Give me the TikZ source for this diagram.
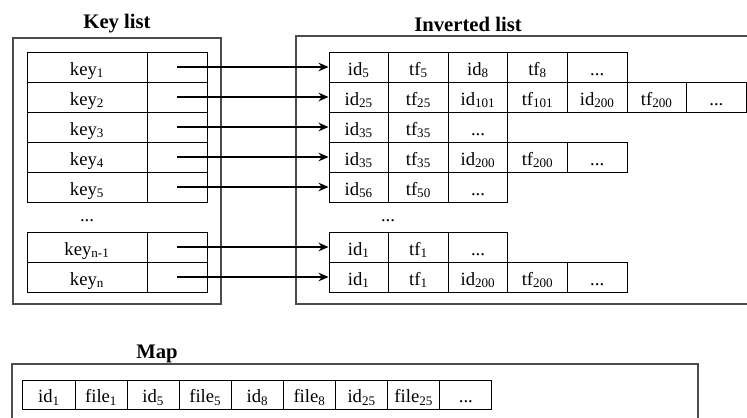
\documentclass[tikz,border=0pt]{standalone}
\usepackage{fontspec}
\setmainfont{Liberation Serif}
\usetikzlibrary{arrows.meta}

\tikzset{every picture/.style={line width=0.75pt}}
\tikzset{
  cell/.style={draw, rectangle, inner sep=0pt, minimum height=22.5pt, text height=13pt, text depth=1pt, font=\fontsize{14}{16}\selectfont},
  keycell/.style={cell, minimum width=90pt},
  ptrcell/.style={cell, minimum width=45pt},
  invcell/.style={cell, minimum width=44.7pt},
  mapcell/.style={cell, minimum width=39.1pt, minimum height=21.75pt},
  frame/.style={draw=black!70, line width=1pt},
  title/.style={font=\fontsize{15.5}{18}\selectfont\bfseries},
  dots/.style={font=\fontsize{14}{16}\selectfont},
  link/.style={-{Stealth[length=7.5pt,width=6.5pt]}, line width=1pt}
}

\begin{document}
\begin{tikzpicture}[x=0.75pt,y=0.75pt,yscale=-1,xscale=1]
\clip (0,0) rectangle (747,418);
\useasboundingbox (0,0) rectangle (747,418);

% Frames
\draw [frame] (13,38) rectangle (221,304);
\draw [frame] (296,36) rectangle (770,304);
\draw [frame] (12,364) rectangle (698,440);

% Titles
\node [title] (tkey) at (117,24) {Key list};
\node [title] (tinv) at (468,24) {Inverted list};
\node [title] (tmap) at (157,354) {Map};

% Key list
\node [keycell] (k1) at (87,67) {key\textsubscript{1}};
\node [ptrcell] (p1) at (177,67) {};
\node [keycell] (k2) at (87,97) {key\textsubscript{2}};
\node [ptrcell] (p2) at (177,97) {};
\node [keycell] (k3) at (87,127) {key\textsubscript{3}};
\node [ptrcell] (p3) at (177,127) {};
\node [keycell] (k4) at (87,157) {key\textsubscript{4}};
\node [ptrcell] (p4) at (177,157) {};
\node [keycell] (k5) at (87,187) {key\textsubscript{5}};
\node [ptrcell] (p5) at (177,187) {};
\node [dots] (kdots) at (87,221) {...};
\node [keycell] (km) at (87,247) {key\textsubscript{n-1}};
\node [ptrcell] (pm) at (177,247) {};
\node [keycell] (kn) at (87,277) {key\textsubscript{n}};
\node [ptrcell] (pn) at (177,277) {};

% Inverted list
\node [invcell] (a1) at (358.8,67) {id\textsubscript{5}};
\node [invcell] (a2) at (418.4,67) {tf\textsubscript{5}};
\node [invcell] (a3) at (478.0,67) {id\textsubscript{8}};
\node [invcell] (a4) at (537.6,67) {tf\textsubscript{8}};
\node [invcell] (a5) at (597.2,67) {...};

\node [invcell] (b1) at (358.8,97) {id\textsubscript{25}};
\node [invcell] (b2) at (418.4,97) {tf\textsubscript{25}};
\node [invcell] (b3) at (478.0,97) {id\textsubscript{101}};
\node [invcell] (b4) at (537.6,97) {tf\textsubscript{101}};
\node [invcell] (b5) at (597.2,97) {id\textsubscript{200}};
\node [invcell] (b6) at (656.8,97) {tf\textsubscript{200}};
\node [invcell] (b7) at (716.4,97) {...};

\node [invcell] (c1) at (358.8,127) {id\textsubscript{35}};
\node [invcell] (c2) at (418.4,127) {tf\textsubscript{35}};
\node [invcell] (c3) at (478.0,127) {...};

\node [invcell] (d1) at (358.8,157) {id\textsubscript{35}};
\node [invcell] (d2) at (418.4,157) {tf\textsubscript{35}};
\node [invcell] (d3) at (478.0,157) {id\textsubscript{200}};
\node [invcell] (d4) at (537.6,157) {tf\textsubscript{200}};
\node [invcell] (d5) at (597.2,157) {...};

\node [invcell] (e1) at (358.8,187) {id\textsubscript{56}};
\node [invcell] (e2) at (418.4,187) {tf\textsubscript{50}};
\node [invcell] (e3) at (478.0,187) {...};

\node [dots] (idots) at (388,221) {...};

\node [invcell] (f1) at (358.8,247) {id\textsubscript{1}};
\node [invcell] (f2) at (418.4,247) {tf\textsubscript{1}};
\node [invcell] (f3) at (478.0,247) {...};

\node [invcell] (g1) at (358.8,277) {id\textsubscript{1}};
\node [invcell] (g2) at (418.4,277) {tf\textsubscript{1}};
\node [invcell] (g3) at (478.0,277) {id\textsubscript{200}};
\node [invcell] (g4) at (537.6,277) {tf\textsubscript{200}};
\node [invcell] (g5) at (597.2,277) {...};

% Pointers
\draw [link] (p1.center) -- (a1.west);
\draw [link] (p2.center) -- (b1.west);
\draw [link] (p3.center) -- (c1.west);
\draw [link] (p4.center) -- (d1.west);
\draw [link] (p5.center) -- (e1.west);
\draw [link] (pm.center) -- (f1.west);
\draw [link] (pn.center) -- (g1.west);

% Map
\node [mapcell] (m1) at (49.05,394.5) {id\textsubscript{1}};
\node [mapcell] (m2) at (101.15,394.5) {file\textsubscript{1}};
\node [mapcell] (m3) at (153.25,394.5) {id\textsubscript{5}};
\node [mapcell] (m4) at (205.35,394.5) {file\textsubscript{5}};
\node [mapcell] (m5) at (257.45,394.5) {id\textsubscript{8}};
\node [mapcell] (m6) at (309.55,394.5) {file\textsubscript{8}};
\node [mapcell] (m7) at (361.65,394.5) {id\textsubscript{25}};
\node [mapcell] (m8) at (413.75,394.5) {file\textsubscript{25}};
\node [mapcell] (m9) at (465.85,394.5) {...};

\end{tikzpicture}
\end{document}
